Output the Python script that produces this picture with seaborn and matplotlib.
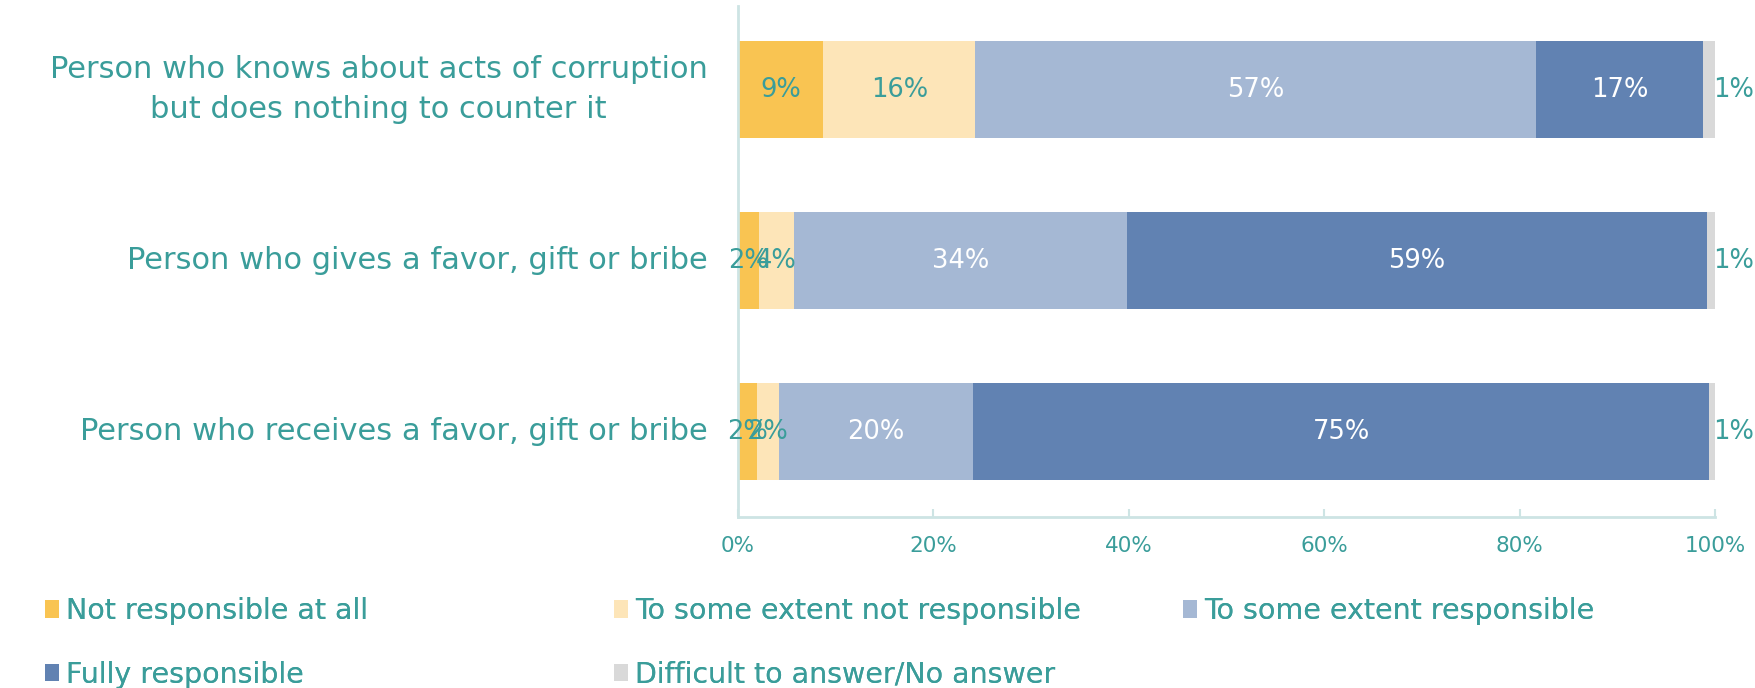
import matplotlib
matplotlib.use("Agg")
import matplotlib.pyplot as plt
import seaborn as sns
import pandas as pd
import numpy as np
from matplotlib.patches import Patch

# ---- data ----
categories = [
    "Person who knows about acts of corruption\nbut does nothing to counter it",
    "Person who gives a favor, gift or bribe",
    "Person who receives a favor, gift or bribe",
]
series_names = [
    "Not responsible at all",
    "To some extent not responsible",
    "To some extent responsible",
    "Fully responsible",
    "Difficult to answer/No answer",
]
not_responsible = [8.7, 2.1, 1.9]
some_not_responsible = [15.6, 3.6, 2.3]
some_responsible = [57.4, 34.1, 19.9]
fully_responsible = [17.1, 59.4, 75.3]
no_answer = [1.2, 0.8, 0.6]
x_ticks = [0, 20, 40, 60, 80, 100]

series_values = [not_responsible, some_not_responsible, some_responsible,
                 fully_responsible, no_answer]
colors = ["#F9C452", "#FDE5B8", "#A5B8D4", "#6182B2", "#D9D9D9"]
label_colors = ["#3A9D9A", "#3A9D9A", "white", "white", "#3A9D9A"]
TEXT = "#3A9D9A"
SPINE = "#CDE4E4"

sns.set_theme(style="white")
plt.rcParams["font.family"] = ["DejaVu Sans"]

fig = plt.figure(figsize=(17.56, 6.88), dpi=100)
ax = fig.add_axes([738 / 1756, 1 - 517 / 688, (1715 - 738) / 1756, (517 - 6) / 688])

vals = np.array(series_values)
cum = np.cumsum(vals, axis=0)
starts = cum - vals

# draw cumulative bars from the longest to the shortest so they stack
for i in range(len(series_names) - 1, -1, -1):
    df = pd.DataFrame({"cat": categories, "val": cum[i]})
    sns.barplot(data=df, x="val", y="cat", orient="h", color=colors[i],
                saturation=1, width=0.567, ax=ax, edgecolor="none", linewidth=0)

# segment labels
for i in range(len(series_names)):
    for j in range(len(categories)):
        v = vals[i, j]
        if i == len(series_names) - 1:
            xpos = 101.9
        else:
            xpos = starts[i, j] + v / 2
        ax.text(xpos, j, f"{v:.0f}%", ha="center", va="center",
                color=label_colors[i], fontsize=18.5)

ax.set_xlim(0, 100)
ax.set_ylim(2.5, -0.49)
ax.set_xticks(x_ticks)
ax.set_xticklabels([f"{t}%" for t in x_ticks])
ax.set_xlabel("")
ax.set_ylabel("")
ax.tick_params(axis="x", direction="in", length=6, width=1.5, color=SPINE,
               labelcolor=TEXT, labelsize=15.5, pad=14, bottom=True)
ax.tick_params(axis="y", length=0, labelcolor=TEXT, labelsize=22, pad=22)
for lbl in ax.get_yticklabels():
    lbl.set_multialignment("center")
    lbl.set_linespacing(1.5)
    lbl.set_verticalalignment("center")
for s in ["top", "right"]:
    ax.spines[s].set_visible(False)
for s in ["left", "bottom"]:
    ax.spines[s].set_color(SPINE)
    ax.spines[s].set_linewidth(2)
ax.grid(False)

# legend laid out on a fixed-width grid (three columns)
handles = [Patch(facecolor=c, edgecolor="none") for c in colors]
columns = [[0, 3], [1, 4], [2]]
col_x = [45, 614, 1183]
for idxs, cx in zip(columns, col_x):
    leg = fig.legend([handles[k] for k in idxs], [series_names[k] for k in idxs],
                     loc="upper left", bbox_to_anchor=(cx / 1756, 1 - 597 / 688),
                     frameon=False, fontsize=20.5, borderpad=0, borderaxespad=0,
                     handlelength=0.5, handleheight=0.58, handletextpad=0.25,
                     labelspacing=1.25)
    for t in leg.get_texts():
        t.set_color(TEXT)
    fig.add_artist(leg)

fig.savefig("out.png", dpi=100)
